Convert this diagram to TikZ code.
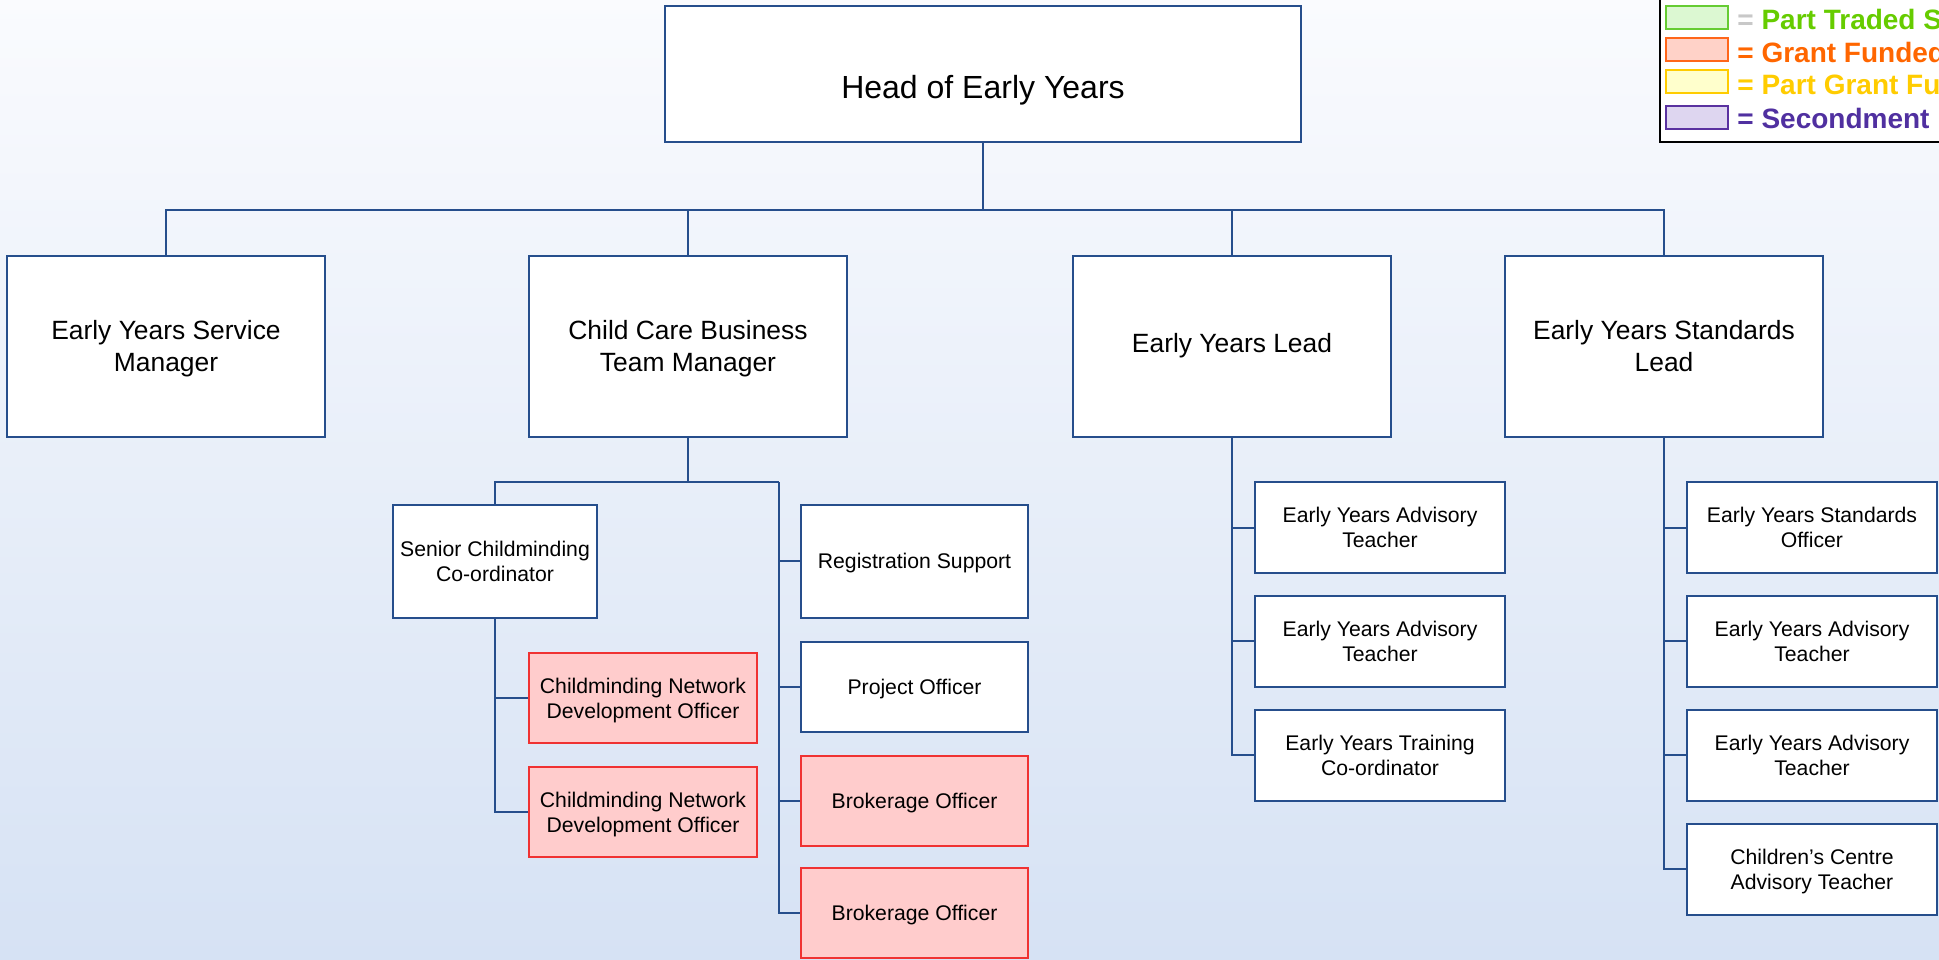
\documentclass[tikz,border=0pt]{standalone}
\usepackage{fontspec}
\setmainfont{Liberation Sans}
\definecolor{bgtop}{RGB}{250,251,254}
\definecolor{bgbot}{RGB}{214,226,244}
\definecolor{ln}{RGB}{38,78,140}
\definecolor{rfill}{RGB}{255,204,204}
\definecolor{rline}{RGB}{240,50,50}
\definecolor{eqgray}{RGB}{200,200,200}
\definecolor{lgtxt}{RGB}{102,204,0}
\definecolor{lgfill}{RGB}{220,248,210}
\definecolor{lgline}{RGB}{102,204,51}
\definecolor{ortxt}{RGB}{255,102,0}
\definecolor{orfill}{RGB}{255,210,200}
\definecolor{orline}{RGB}{255,102,26}
\definecolor{yetxt}{RGB}{255,204,0}
\definecolor{yefill}{RGB}{255,255,204}
\definecolor{yeline}{RGB}{255,204,0}
\definecolor{putxt}{RGB}{80,48,160}
\definecolor{pufill}{RGB}{222,214,240}
\definecolor{puline}{RGB}{90,50,160}
\begin{document}
\begin{tikzpicture}[x=0.5pt,y=-0.5pt,
  box/.style={draw=ln, line width=1pt, fill=white, align=center, inner sep=0pt, text depth=0pt},
  big/.style={box, minimum width=159pt, minimum height=90.5pt, font=\fontsize{13.2}{16}\selectfont},
  small/.style={box, font=\fontsize{10.6}{12.4}\selectfont},
  grant/.style={fill=rfill, draw=rline},
  conn/.style={draw=ln, line width=1pt},
  swatch/.style={line width=1pt, minimum width=31pt, minimum height=11.5pt, inner sep=0pt},
  lgtext/.style={anchor=west, inner sep=0pt, font=\bfseries\fontsize{14}{16}\selectfont}]
\useasboundingbox (0,0) rectangle (1939,959);
\clip (0,0) rectangle (1939,959);
\shade[top color=bgtop, bottom color=bgbot] (0,0) rectangle (1939,959);

% top
\node[box, minimum width=318pt, minimum height=68pt] (head) at (983,74) {};
\node[font=\fontsize{16}{19}\selectfont, text depth=0pt] (headtxt) at (983,86.5) {Head of Early Years};

% level 2
\node[big] (eysm) at (166,346) {Early Years Service\\Manager};
\node[big] (ccbtm) at (688,346) {Child Care Business\\Team Manager};
\node[big, text depth=2.8pt] (eyl) at (1232,346) {Early Years Lead};
\node[big] (eysl) at (1664,346) {Early Years Standards\\Lead};

% child care subtree
\node[small, minimum width=102pt, minimum height=56.5pt] (scc) at (495,561) {Senior Childminding\\Co-ordinator};
\node[small, grant, minimum width=114pt, minimum height=45pt] (cm1) at (643,698) {Childminding Network\\Development Officer};
\node[small, grant, minimum width=114pt, minimum height=45pt] (cm2) at (643,812) {Childminding Network\\Development Officer};
\node[small, minimum width=113.5pt, minimum height=56.5pt] (reg) at (914.5,561) {Registration Support};
\node[small, minimum width=113.5pt, minimum height=45pt] (proj) at (914.5,687) {Project Officer};
\node[small, grant, minimum width=113.5pt, minimum height=45pt] (brok1) at (914.5,801) {Brokerage Officer};
\node[small, grant, minimum width=113.5pt, minimum height=45pt] (brok2) at (914.5,913) {Brokerage Officer};

% early years lead subtree
\node[small, minimum width=125pt, minimum height=45.5pt] (a1) at (1380,527.5) {Early Years Advisory\\Teacher};
\node[small, minimum width=125pt, minimum height=45.5pt] (a2) at (1380,641) {Early Years Advisory\\Teacher};
\node[small, minimum width=125pt, minimum height=45.5pt] (a3) at (1380,755) {Early Years Training\\Co-ordinator};

% standards lead subtree
\node[small, minimum width=125pt, minimum height=45.5pt] (s1) at (1812,527.5) {Early Years Standards\\Officer};
\node[small, minimum width=125pt, minimum height=45.5pt] (s2) at (1812,641) {Early Years Advisory\\Teacher};
\node[small, minimum width=125pt, minimum height=45.5pt] (s3) at (1812,755) {Early Years Advisory\\Teacher};
\node[small, minimum width=125pt, minimum height=45.5pt] (s4) at (1812,869) {Children’s Centre\\Advisory Teacher};

% connectors
\coordinate (bus) at (983,210);
\draw[conn, line width=1.4pt] (head.south) -- (bus);
\draw[conn] (bus) -| (eysm.north);
\draw[conn] (bus) -| (ccbtm.north);
\draw[conn] (bus) -| (eyl.north);
\draw[conn] (bus) -| (eysl.north);

\coordinate (cb) at (688,482);
\coordinate (rc) at (779,482);
\draw[conn] (ccbtm.south) -- (cb);
\draw[conn] (cb) -| (scc.north);
\draw[conn] (cb) -- (rc);
\draw[conn] (rc) |- (reg.west);
\draw[conn] (rc) |- (proj.west);
\draw[conn] (rc) |- (brok1.west);
\draw[conn] (rc) |- (brok2.west);
\draw[conn] (scc.south) |- (cm1.west);
\draw[conn] (scc.south) |- (cm2.west);

\draw[conn] (eyl.south) |- (a1.west);
\draw[conn] (eyl.south) |- (a2.west);
\draw[conn] (eyl.south) |- (a3.west);

\draw[conn] (eysl.south) |- (s1.west);
\draw[conn] (eysl.south) |- (s2.west);
\draw[conn] (eysl.south) |- (s3.west);
\draw[conn] (eysl.south) |- (s4.west);

% legend
\draw[black, line width=1pt, fill=white] (1660,-5) rectangle (1960,142);
\node[swatch, draw=lgline, fill=lgfill] (sw1) at (1697,17) {};
\node[swatch, draw=orline, fill=orfill] (sw2) at (1697,49.5) {};
\node[swatch, draw=yeline, fill=yefill] (sw3) at (1697,81.5) {};
\node[swatch, draw=puline, fill=pufill] (sw4) at (1697,117) {};
\node[lgtext, text=lgtxt] (lt1) at (1737,19.5) {\textcolor{eqgray}{=} Part Traded Services};
\node[lgtext, text=ortxt] (lt2) at (1737,52) {= Grant Funded};
\node[lgtext, text=yetxt] (lt3) at (1737,84.5) {= Part Grant Funded};
\node[lgtext, text=putxt] (lt4) at (1737,118) {= Secondment};
\end{tikzpicture}
\end{document}
